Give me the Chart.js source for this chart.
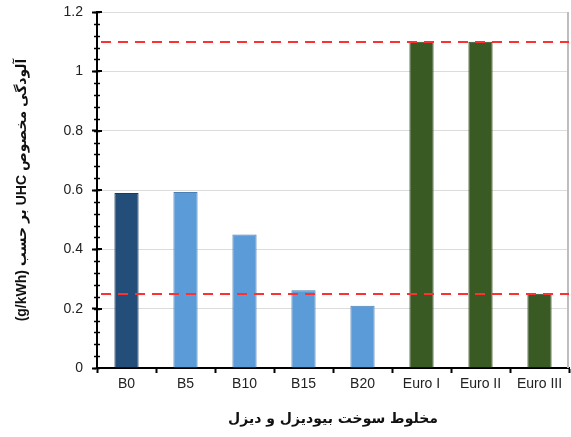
<!DOCTYPE html>
<html>
<head>
<meta charset="utf-8">
<script src="https://cdn.jsdelivr.net/npm/chart.js@4/dist/chart.umd.min.js"></script>
<style>
  html, body { margin: 0; padding: 0; background: #fff; }
  #wrap { width: 571px; height: 437px; }
</style>
</head>
<body>
<div id="wrap"><canvas id="c" dir="rtl"></canvas></div>
<script>
// Fuel blends and emission standards on the category axis
const categories = ['B0', 'B5', 'B10', 'B15', 'B20', 'Euro I', 'Euro II', 'Euro III'];
// Specific UHC emission (g/kWh)
const uhcValues = [0.59, 0.593, 0.45, 0.262, 0.21, 1.1, 1.1, 0.25];
const barColors = ['#234e7a', '#5b9bd8', '#5b9bd8', '#5b9bd8', '#5b9bd8', '#3a5a24', '#3a5a24', '#3a5a24'];
const barBorders = ['#1a3b5c', '#4a7fb3', '#4a7fb3', '#4a7fb3', '#4a7fb3', '#2b431b', '#2b431b', '#2b431b'];
// Reference limit lines (g/kWh)
const limitLines = [1.1, 0.25];
const yTickMax = 1.2;
const yMajorStep = 0.2;
const yMinorStep = 0.04;

const yTitle = 'آلودگی مخصوص UHC بر حسب (g/kWh)';
const xTitle = 'مخلوط سوخت بیودیزل و دیزل';

const fontFamily = '"Liberation Sans", Arial, "DejaVu Sans", sans-serif';

// Dashed limit lines, minor y ticks and the right frame edge
const decorations = {
  id: 'decorations',
  beforeDatasetsDraw(chart) {
    const { ctx, chartArea: a } = chart;
    ctx.save();
    ctx.strokeStyle = '#bdbdbd';
    ctx.lineWidth = 2;
    ctx.beginPath();
    ctx.moveTo(a.right - 1, a.top);
    ctx.lineTo(a.right - 1, a.bottom);
    ctx.stroke();
    ctx.restore();
  },
  afterDatasetsDraw(chart) {
    const { ctx, chartArea: a, scales: { y } } = chart;
    ctx.save();
    ctx.strokeStyle = '#ff3030';
    ctx.lineWidth = 2;
    ctx.setLineDash([10, 7]);
    limitLines.forEach(v => {
      const py = Math.round(y.getPixelForValue(v));
      ctx.beginPath();
      ctx.moveTo(a.left + 4, py);
      ctx.lineTo(a.right, py);
      ctx.stroke();
    });
    ctx.setLineDash([]);
    ctx.strokeStyle = '#000';
    ctx.lineWidth = 1.5;
    const n = Math.round(yTickMax / yMinorStep);
    for (let i = 0; i <= n; i++) {
      const py = Math.round(y.getPixelForValue(i * yMinorStep)) + 0.5;
      ctx.beginPath();
      ctx.moveTo(a.left - 3, py);
      ctx.lineTo(a.left + 3, py);
      ctx.stroke();
    }
    const m = Math.round(yTickMax / yMajorStep);
    ctx.lineWidth = 2;
    for (let i = 0; i <= m; i++) {
      const py = Math.round(y.getPixelForValue(i * yMajorStep));
      ctx.beginPath();
      ctx.moveTo(a.left, py);
      ctx.lineTo(a.left + 5, py);
      ctx.stroke();
    }
    ctx.restore();
  }
};

new Chart(document.getElementById('c'), {
  type: 'bar',
  data: {
    labels: categories,
    datasets: [{
      data: uhcValues,
      backgroundColor: barColors,
      borderColor: barBorders,
      borderWidth: 1,
      barPercentage: 0.41,
      categoryPercentage: 1.0
    }]
  },
  options: {
    responsive: true,
    maintainAspectRatio: false,
    animation: false,
    layout: { padding: { top: 12, right: 2, left: 0, bottom: 0 } },
    plugins: { legend: { display: false }, tooltip: { enabled: false } },
    scales: {
      x: {
        offset: true,
        grid: { display: true, drawOnChartArea: false, offset: true, tickLength: 5, tickColor: '#000', tickWidth: 2 },
        border: { color: '#000', width: 2 },
        ticks: { color: '#222', padding: 3, font: { family: fontFamily, size: 14 }, maxRotation: 0, autoSkip: false },
        title: { display: true, text: xTitle, color: '#111', padding: { top: 9, bottom: 9 }, font: { family: '"DejaVu Sans", sans-serif', size: 14, weight: 'bold' } },
        afterFit(scale) { scale.height = 69; scale.paddingLeft = 0; scale.paddingRight = 0; }
      },
      y: {
        min: 0,
        max: yTickMax,
        ticks: {
          stepSize: yMajorStep,
          color: '#222',
          padding: 9,
          font: { family: fontFamily, size: 14 },
          callback: v => String(Math.round(v * 10) / 10)
        },
        grid: { color: '#dcdcdc', lineWidth: 1, tickLength: 5, tickColor: '#000', tickWidth: 2 },
        border: { color: '#000', width: 2 },
        title: { display: true, text: yTitle, color: '#111', padding: { top: 14, bottom: 0 }, font: { family: '"Liberation Sans", "DejaVu Sans", sans-serif', size: 14, weight: 'bold' } },
        afterFit(scale) { scale.width = 97; scale.paddingTop = 0; scale.paddingBottom = 0; }
      }
    }
  },
  plugins: [decorations]
});
</script>
</body>
</html>
